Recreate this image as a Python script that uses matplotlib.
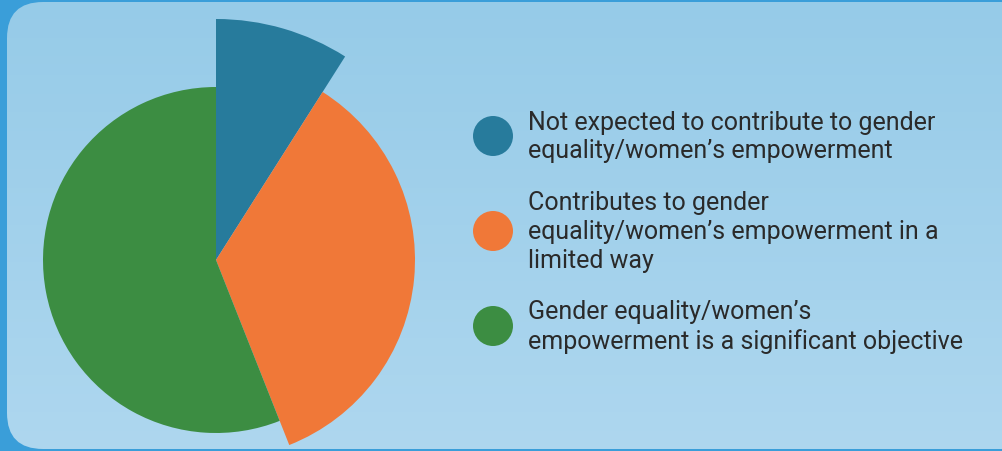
import numpy as np
import matplotlib
matplotlib.use("Agg")
from matplotlib import pyplot as plt
from matplotlib.patches import FancyBboxPatch, Circle

# data
labels = ["Not expected to contribute to gender\nequality/women\u2019s empowerment",
          "Contributes to gender\nequality/women\u2019s empowerment in a\nlimited way",
          "Gender equality/women\u2019s\nempowerment is a significant objective"]
shares = [9, 35, 56]
radii = [241, 199, 173]
colors = ["#277B9C", "#F07838", "#3C8D42"]

W, H = 1002, 452
plt.rcParams['font.family'] = ['Roboto', 'DejaVu Sans']

fig = plt.figure(figsize=(W/100, H/100), dpi=100)
fig.patch.set_facecolor("#3A9ED9")
ax = fig.add_axes([0, 0, 1, 1])
ax.set_facecolor("none")

# rounded inner panel with a soft vertical gradient
panel = FancyBboxPatch((7, 2), 1030, 447, boxstyle="round,pad=0,rounding_size=36",
                       fc="none", ec="none", zorder=0)
ax.add_patch(panel)
grad = np.linspace(0, 1, 256).reshape(-1, 1)
c_top = np.array([0x96, 0xCB, 0xE8]) / 255
c_bot = np.array([0xAE, 0xD7, 0xEF]) / 255
img = c_bot + (c_top - c_bot) * grad[..., None]
im = ax.imshow(img, extent=(0, W, 0, H), origin="lower", aspect="auto", zorder=0)
im.set_clip_path(panel)

# pie, each wedge with its own radius
wedges, _ = ax.pie(shares, colors=colors, startangle=90, counterclock=False,
                   center=(216, H - 261), radius=1, frame=True,
                   wedgeprops=dict(linewidth=0))
for w, r in zip(wedges, radii):
    w.set_radius(r)
    w.set_zorder(2)

# legend
ys = [137, 232, 327]
for lab, col, y in zip(labels, colors, ys):
    ax.add_patch(Circle((493, H - y), 20, fc=col, ec="none", zorder=3))
    ax.text(528, H - y, lab, fontsize=18, color="#2A2A2A", va="center", ha="left",
            linespacing=1.25, zorder=3)

ax.set_xlim(0, W)
ax.set_ylim(0, H)
ax.set_aspect("auto")
ax.axis("off")

fig.savefig("out.png", dpi=100, facecolor=fig.get_facecolor())
